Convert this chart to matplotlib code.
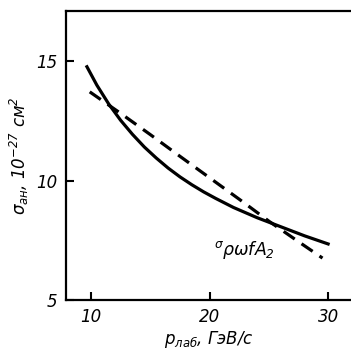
import matplotlib
matplotlib.use("Agg")
import matplotlib.pyplot as plt

plt.rcParams['mathtext.fontset'] = 'custom'
plt.rcParams['mathtext.rm'] = 'DejaVu Sans:italic'
plt.rcParams['mathtext.it'] = 'DejaVu Sans:italic'
plt.rcParams['mathtext.sf'] = 'DejaVu Sans:italic'
plt.rcParams['font.style'] = 'italic'

solid_x = [9.6, 10.5, 11.5, 12.5, 13.5, 14.5, 15.5, 16.5, 17.5, 18.5, 19.5, 20.5, 22.0, 24.0, 26.0, 28.0, 30.1]
solid_y = [14.83, 14.00, 13.21, 12.53, 11.94, 11.41, 10.95, 10.53, 10.16, 9.83, 9.53, 9.26, 8.88, 8.45, 8.07, 7.69, 7.33]
dash_x = [9.9, 12.5, 15.0, 17.5, 20.0, 22.5, 25.0, 27.5, 29.5]
dash_y = [13.72, 12.82, 11.93, 11.02, 10.12, 9.22, 8.30, 7.44, 6.76]

xticks = [10, 20, 30]
yticks = [5, 10, 15]

fig = plt.figure(figsize=(3.51, 3.59), dpi=100)
ax = fig.add_axes([0.188, 0.164, 0.812, 0.805])
ax.plot(solid_x, solid_y, color='black', lw=2.3, solid_capstyle='butt', solid_joinstyle='round')
ax.plot(dash_x, dash_y, color='black', lw=2.3, dashes=(4.2, 2.6), dash_capstyle='butt')

ax.set_xlim(7.9, 31.9)
ax.set_ylim(5, 17.1)
ax.set_xticks(xticks)
ax.set_yticks(yticks)
ax.tick_params(direction='in', length=6, width=1.5, labelsize=12, pad=6)
for lab in ax.get_xticklabels() + ax.get_yticklabels():
    lab.set_fontstyle('italic')
for s in ['left', 'bottom', 'top']:
    ax.spines[s].set_linewidth(1.6)
ax.spines['right'].set_visible(False)

ax.text(20.4, 6.9, r'$^{\sigma}\rho\omega fA_2$', fontsize=12.5, ha='left', va='baseline')

ax.set_ylabel(r'$\sigma_{\rm ан}$, $10^{-27}$ см$^2$', fontsize=12, labelpad=4)
ax.set_xlabel(r'$p_{\rm лаб}$, ГэВ/с', fontsize=12, labelpad=2)

fig.savefig('out.png', dpi=100)
